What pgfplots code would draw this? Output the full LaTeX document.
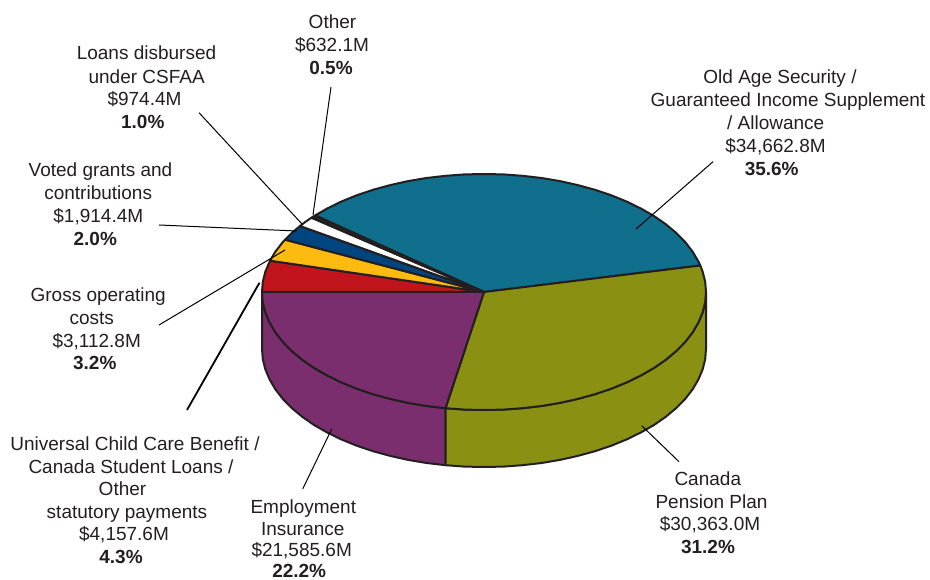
\documentclass[border=0pt]{standalone}
\usepackage{fontspec}
\setmainfont{Liberation Sans}
\usepackage{pgfplots}
\pgfplotsset{compat=1.18}
\definecolor{ink}{HTML}{231F20}
\definecolor{sliceOAS}{HTML}{0F6F8C}
\definecolor{sliceCPP}{HTML}{8A9112}
\definecolor{sliceEI}{HTML}{7A2E6E}
\definecolor{sliceUCCB}{HTML}{C1141C}
\definecolor{sliceGOC}{HTML}{FDBB10}
\definecolor{sliceVGC}{HTML}{00457F}
\definecolor{sliceOther}{HTML}{231F20}
\begin{document}
\begin{tikzpicture}[
  lab/.style={anchor=base,text=ink,inner sep=0pt,font=\fontsize{19}{23}\selectfont}]
\useasboundingbox (0,0) rectangle (930pt,580pt);
\begin{axis}[
  width=930pt,height=580pt,scale only axis,
  xmin=0,xmax=930,ymin=0,ymax=580,y dir=reverse,
  hide axis,clip=false,
  slice/.style={draw=ink,line width=2pt,line join=round,mark=none},
  leader/.style={draw=black,line width=1pt,mark=none}]

% Rim of the disc
\addplot[slice,fill=sliceEI] coordinates {
(262,292)(262.8,302.3)(265.4,312.5)(269.6,322.5)(275.4,332.4)(282.8,341.9)(291.7,351)(302.1,359.7)(313.9,367.9)(327,375.4)(341.3,382.4)(356.7,388.7)(373,394.2)(390.2,398.9)(408.1,402.9)(426.5,406)(445.5,408.2)
(445.5,465.2)(426.5,463)(408.1,459.9)(390.2,455.9)(373,451.2)(356.7,445.7)(341.3,439.4)(327,432.4)(313.9,424.9)(302.1,416.7)(291.7,408)(282.8,398.9)(275.4,389.4)(269.6,379.5)(265.4,369.5)(262.8,359.3)(262,349)
} --cycle;
\addplot[slice,fill=sliceCPP] coordinates {
(445.5,408.2)(464.6,409.6)(484,410)(503.4,409.6)(522.5,408.2)(541.5,406)(559.9,402.9)(577.8,398.9)(595,394.2)(611.3,388.7)(626.7,382.4)(641,375.4)(654.1,367.9)(665.9,359.7)(676.3,351)(685.2,341.9)(692.6,332.4)(698.4,322.5)(702.6,312.5)(705.2,302.3)(706,292)
(706,349)(705.2,359.3)(702.6,369.5)(698.4,379.5)(692.6,389.4)(685.2,398.9)(676.3,408)(665.9,416.7)(654.1,424.9)(641,432.4)(626.7,439.4)(611.3,445.7)(595,451.2)(577.8,455.9)(559.9,459.9)(541.5,463)(522.5,465.2)(503.4,466.6)(484,467)(464.6,466.6)(445.5,465.2)
} --cycle;

% Top face, one wedge per category
\addplot[slice,fill=sliceOAS] coordinates {
(484,292)(700.3,265.5)(698.4,261.5)(692.6,251.6)(685.2,242.1)(676.3,233)(665.9,224.3)(654.1,216.1)(641,208.6)(626.7,201.6)(611.3,195.3)(595,189.8)(577.8,185.1)(559.9,181.1)(541.5,178)(522.5,175.8)(503.4,174.4)(484,174)(464.6,174.4)(445.5,175.8)(426.5,178)(408.1,181.1)(390.2,185.1)(373,189.8)(356.7,195.3)(341.3,201.6)(327,208.6)(315.2,215.4)
} --cycle;
\addplot[slice,fill=sliceCPP] coordinates {
(484,292)(445.5,408.2)(464.6,409.6)(484,410)(503.4,409.6)(522.5,408.2)(541.5,406)(559.9,402.9)(577.8,398.9)(595,394.2)(611.3,388.7)(626.7,382.4)(641,375.4)(654.1,367.9)(665.9,359.7)(676.3,351)(685.2,341.9)(692.6,332.4)(698.4,322.5)(702.6,312.5)(705.2,302.3)(706,292)(705.2,281.7)(702.6,271.5)(700.3,265.5)
} --cycle;
\addplot[slice,fill=sliceEI] coordinates {
(484,292)(262,292)(262.8,302.3)(265.4,312.5)(269.6,322.5)(275.4,332.4)(282.8,341.9)(291.7,351)(302.1,359.7)(313.9,367.9)(327,375.4)(341.3,382.4)(356.7,388.7)(373,394.2)(390.2,398.9)(408.1,402.9)(426.5,406)(445.5,408.2)
} --cycle;
\addplot[slice,fill=sliceUCCB] coordinates {
(484,292)(270,260.7)(265.4,271.5)(262.8,281.7)(262,292)
} --cycle;
\addplot[slice,fill=sliceGOC] coordinates {
(484,292)(285.1,239.7)(282.8,242.1)(275.4,251.6)(270,260.7)
} --cycle;
\addplot[slice,fill=sliceVGC] coordinates {
(484,292)(300,226)(291.7,233)(285.1,239.7)
} --cycle;
\addplot[slice,fill=white] coordinates {
(484,292)(311.5,217.7)(305.5,221.8)(300,226)
} --cycle;
\addplot[slice,fill=sliceOther] coordinates {
(484,292)(315.2,215.4)(311.5,217.7)
} --cycle;

% Leader lines from the labels to their slices
\addplot[leader] coordinates {(331,87)(313,215)};
\addplot[leader] coordinates {(199,112.7)(302,224)};
\addplot[leader] coordinates {(159,225)(296.7,231)};
\addplot[leader] coordinates {(159,325)(285,250)};
\addplot[leader,line width=1.8pt] coordinates {(187,410)(259.5,282.7)};
\addplot[leader] coordinates {(302.7,489)(331.7,429)};
\addplot[leader] coordinates {(679,461.7)(641.7,425.7)};
\addplot[leader] coordinates {(713,161.7)(636,229)};

% Category labels, set line by line on their own baselines
\node[lab] at (axis cs:332.5,29) {Other};
\node[lab] at (axis cs:332,52) {\$632.1M};
\node[lab] at (axis cs:331,75) {\textbf{0.5\%}};

\node[lab] at (axis cs:146.5,60) {Loans disbursed};
\node[lab] at (axis cs:146.7,84) {under CSFAA};
\node[lab] at (axis cs:144.5,106) {\$974.4M};
\node[lab] at (axis cs:142.8,128.5) {\textbf{1.0\%}};

\node[lab] at (axis cs:780,84) {Old Age Security /};
\node[lab] at (axis cs:788,107) {Guaranteed Income Supplement};
\node[lab] at (axis cs:775.7,130) {/ Allowance};
\node[lab] at (axis cs:775.5,153) {\$34,662.8M};
\node[lab] at (axis cs:771.7,175.5) {\textbf{35.6\%}};

\node[lab] at (axis cs:100.5,177) {Voted grants and};
\node[lab] at (axis cs:98.2,200) {contributions};
\node[lab] at (axis cs:98.3,222.7) {\$1,914.4M};
\node[lab] at (axis cs:95.3,245.5) {\textbf{2.0\%}};

\node[lab] at (axis cs:98.2,301.5) {Gross operating};
\node[lab] at (axis cs:91.7,324.5) {costs};
\node[lab] at (axis cs:96.7,347.5) {\$3,112.8M};
\node[lab] at (axis cs:94.8,369.5) {\textbf{3.2\%}};

\node[lab] at (axis cs:135,450) {Universal Child Care Benefit /};
\node[lab] at (axis cs:131,473) {Canada Student Loans /};
\node[lab] at (axis cs:122.5,495) {Other};
\node[lab] at (axis cs:127,518) {statutory payments};
\node[lab] at (axis cs:124,540) {\$4,157.6M};
\node[lab] at (axis cs:121,563) {\textbf{4.3\%}};

\node[lab] at (axis cs:303.3,513.5) {Employment};
\node[lab] at (axis cs:302.8,535.5) {Insurance};
\node[lab] at (axis cs:301.7,556.5) {\$21,585.6M};
\node[lab] at (axis cs:299.2,577) {\textbf{22.2\%}};

\node[lab] at (axis cs:707.8,485) {Canada};
\node[lab] at (axis cs:711.5,508) {Pension Plan};
\node[lab] at (axis cs:710,530) {\$30,363.0M};
\node[lab] at (axis cs:708,553) {\textbf{31.2\%}};
\end{axis}
\end{tikzpicture}
\end{document}
